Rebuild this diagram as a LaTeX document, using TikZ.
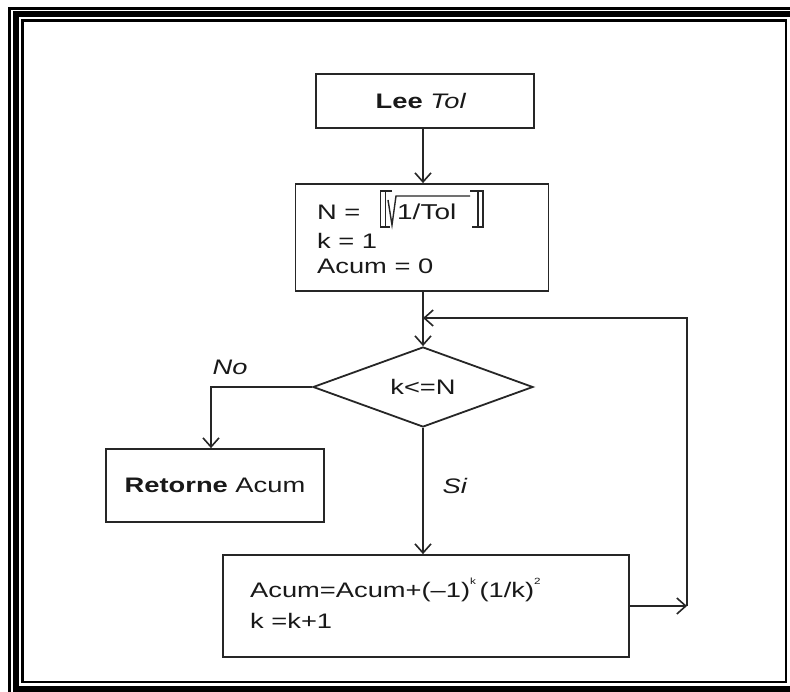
\documentclass[tikz,border=0pt]{standalone}
\usepackage{fontspec}
\setmainfont{Liberation Sans}[FakeStretch=1.3]
\usetikzlibrary{arrows.meta,shapes.geometric}

\tikzset{
  ink/.style={draw=black!85, line width=1.8pt},
  box/.style={ink, rectangle, inner sep=0pt, anchor=center},
  txt/.style={inner sep=0pt, font=\fontsize{21}{25}\selectfont, text=black!90},
  conn/.style={draw=black!85, line width=1.6pt},
  arr/.style={conn, -{Straight Barb[length=9pt,width=16pt,line width=1.6pt]}},
  glyph/.style={draw=black!85, line width=1.4pt},
}

\begin{document}
\begin{tikzpicture}[x=1pt, y=-1pt]
  \useasboundingbox (0,0) rectangle (790,692);
  \fill[white] (0,0) rectangle (790,692);

  % triple page frame, cut by the page edge on the right and bottom
  \begin{scope}
    \clip (0,0) rectangle (790,692);
    \draw[black, line width=3pt] (9.5,8.5) rectangle (799,695);
    \draw[black, line width=6pt] (16,14.5) rectangle (792.5,688.5);
    \draw[black, line width=2.5pt] (22.5,20.5) rectangle (786,682);
  \end{scope}

  % boxes
  \node[box, minimum width=218pt, minimum height=54pt] (lee) at (425,101) {};
  \node[txt] at (421,101) {\textbf{Lee} \textit{Tol}};

  \node[box, minimum width=253pt, minimum height=107pt] (init) at (422,237.5) {};
  \node[txt, anchor=west] (nlab) at (317,212) {N =};
  \node[txt, anchor=west, font=\fontsize{21.5}{25}\selectfont] (tol) at (397,212) {1/Tol};
  \node[txt, anchor=west] (klab) at (317,241) {k = 1};
  \node[txt, anchor=west] (alab) at (317,266) {Acum = 0};
  % integer-part brackets and square root
  \draw[glyph] (392,191) -- (380.5,191) -- (380.5,227) -- (390,227);
  \draw[glyph] (385.5,191) -- (385.5,227);
  \draw[glyph] (470,191) -- (483,191) -- (483,227) -- (472,227);
  \draw[glyph] (478,191) -- (478,227);
  \draw[glyph] (388,200) -- (392,225) -- (396,196) -- (470,196);

  \node[ink, diamond, inner sep=0pt, minimum width=220pt, minimum height=80pt] (dia) at (423,387) {};
  \node[txt] at (dia.center) {k<=N};

  \node[box, minimum width=218pt, minimum height=73pt] (ret) at (215,485.5) {};
  \node[txt] at (ret.center) {\textbf{Retorne} Acum};

  \node[box, minimum width=406pt, minimum height=102pt] (bot) at (426,606) {};
  \node[txt, anchor=west] (upd) at (250,590) {Acum=Acum+(–1)\raisebox{1.1ex}{\fontsize{9}{9}\selectfont k}\,(1/k)\raisebox{1.1ex}{\fontsize{9}{9}\selectfont 2}};
  \node[txt, anchor=west] (inc) at (250,621) {k =k+1};

  % labels
  \node[txt] (nolab) at (230,367) {\textit{No}};
  \node[txt] (silab) at (455,486) {\textit{Si}};

  % connectors
  \coordinate (turn) at (687,318);
  \coordinate (nocorner) at (211,387);
  \coordinate (backin) at (687,606);
  \coordinate (spine) at (423,0);

  \draw[arr] (spine |- lee.south) -- (spine |- init.north);
  \draw[arr] (spine |- init.south) -- (dia.north);
  \draw[arr] (dia.west) -- (nocorner) -- (nocorner |- ret.north);
  \draw[arr] (dia.south) -- (dia.south |- bot.north);
  \draw[arr] (bot.east) -- (backin);
  \draw[arr] (backin) -- (turn) -- (turn -| dia.north);
\end{tikzpicture}
\end{document}
